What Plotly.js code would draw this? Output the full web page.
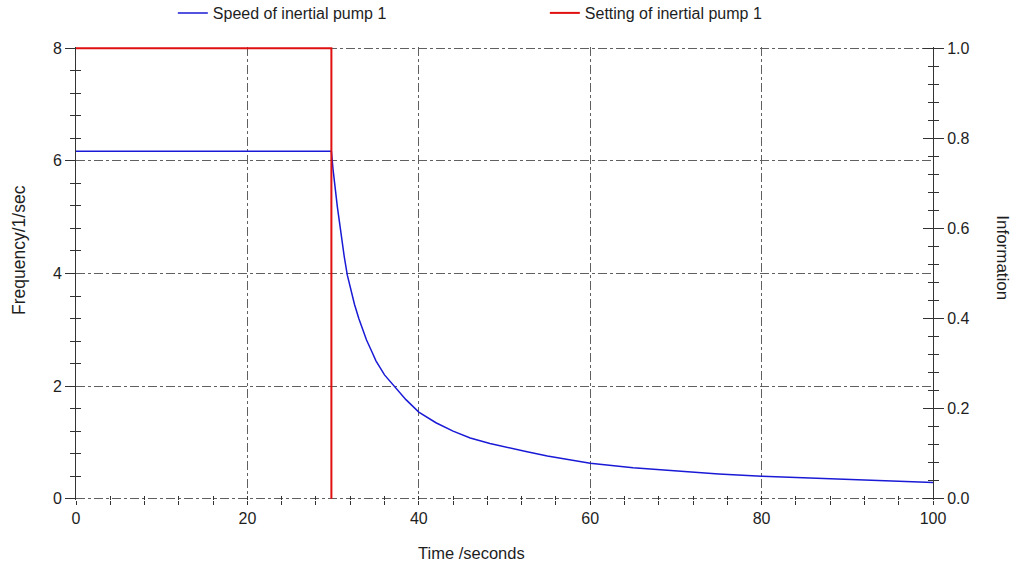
<!DOCTYPE html>
<html>
<head>
<meta charset="utf-8">
<script src="https://cdn.plot.ly/plotly-3.0.1.min.js"></script>
<style>html,body{margin:0;padding:0;background:#fff;}#chart{width:1016px;height:565px;}</style>
</head>
<body>
<div id="chart"></div>
<script>
// Speed of inertial pump 1 (Frequency, 1/sec)
const speedTime = [0, 29.8, 30.0, 30.2, 30.5, 30.8, 31.0, 31.3, 31.66, 32.0, 32.5, 33.0, 33.9, 34.5, 35, 36, 37.2, 38.5, 40, 42, 44, 46, 48.3, 50, 52.5, 55, 57.5, 60, 65, 70, 75, 80, 85, 90, 95, 100];
const speedValue = [6.17, 6.17, 5.84, 5.55, 5.18, 4.85, 4.60, 4.30, 3.97, 3.76, 3.45, 3.20, 2.82, 2.62, 2.45, 2.20, 1.98, 1.76, 1.54, 1.35, 1.20, 1.08, 0.98, 0.92, 0.84, 0.76, 0.69, 0.63, 0.55, 0.49, 0.44, 0.40, 0.37, 0.34, 0.31, 0.29];
// Setting of inertial pump 1
const settingTime = [0, 29.8, 29.8];
const settingValue = [8, 8, 0];

const seriesNames = ["Speed of inertial pump 1", "Setting of inertial pump 1"];
const xTitle = "Time /seconds";
const yTitle = "Frequency/1/sec";
const y2Title = "Information";

const font = "Liberation Sans, Arial, sans-serif";
const tickCol = "#333";
const gridCol = "#606060";
const txtCol = "#1e1e1e";

const traces = [
  {x: speedTime, y: speedValue, type: "scatter", mode: "lines", name: seriesNames[0],
   line: {color: "#1a1ad6", width: 1.5}},
  {x: settingTime, y: settingValue, type: "scatter", mode: "lines", name: seriesNames[1],
   line: {color: "#e01010", width: 2}},
  // invisible helper traces so the overlay axes (crossing ticks, right scale) are built
  {x: speedTime, y: speedValue, xaxis: "x2", yaxis: "y3", mode: "lines", showlegend: false, hoverinfo: "skip", line: {width: 0}, opacity: 0},
  {x: speedTime, y: speedValue.map(v => v / 8), xaxis: "x", yaxis: "y2", mode: "lines", showlegend: false, hoverinfo: "skip", line: {width: 0}, opacity: 0},
  {x: speedTime, y: speedValue.map(v => v / 8), xaxis: "x", yaxis: "y4", mode: "lines", showlegend: false, hoverinfo: "skip", line: {width: 0}, opacity: 0}
];

// ranges padded by ~1px so the dash-dot gridlines at 0 and 8 are kept
const yPad = 0.022;
const layout = {
  width: 1016, height: 565,
  margin: {l: 76, r: 83, t: 47, b: 65},
  paper_bgcolor: "#fff", plot_bgcolor: "#fff",
  font: {family: font, size: 16, color: txtCol},
  showlegend: true,
  legend: {orientation: "h", xref: "paper", x: 0.113, xanchor: "left", yref: "container", y: 0.977, yanchor: "middle",
           font: {family: font, size: 16, color: txtCol}, entrywidth: 327, entrywidthmode: "pixels",
           bgcolor: "rgba(0,0,0,0)"},
  xaxis: {range: [0, 100], dtick: 20, tick0: 0, showgrid: true, gridcolor: gridCol, griddash: "dashdot", gridwidth: 1,
          showline: false, zeroline: false, ticks: "outside", ticklen: 4, tickcolor: tickCol, tickwidth: 1,
          minor: {dtick: 4, tick0: 0, ticks: "outside", ticklen: 4, tickcolor: tickCol, tickwidth: 1, showgrid: false},
          tickfont: {size: 16, color: txtCol}, fixedrange: true},
  xaxis2: {range: [0, 100], overlaying: "x", anchor: "y", side: "bottom", dtick: 20, tick0: 0, showgrid: false,
           showline: false, zeroline: false, ticks: "inside", ticklen: 4, tickcolor: tickCol, showticklabels: false,
           minor: {dtick: 4, tick0: 0, ticks: "inside", ticklen: 4, tickcolor: tickCol, showgrid: false}},
  yaxis: {range: [-yPad, 8 + yPad], dtick: 2, tick0: 0, showgrid: true, gridcolor: gridCol, griddash: "dashdot", gridwidth: 1,
          showline: true, linecolor: tickCol, linewidth: 1, zeroline: false, ticks: "outside", ticklen: 10, tickcolor: tickCol,
          minor: {dtick: 0.4, tick0: 0, ticks: "outside", ticklen: 5, tickcolor: tickCol, showgrid: false},
          tickfont: {size: 16, color: txtCol}},
  yaxis3: {range: [-yPad, 8 + yPad], overlaying: "y", anchor: "x", side: "left", dtick: 2, showgrid: false, showline: false, zeroline: false,
           ticks: "", showticklabels: false,
           minor: {dtick: 0.4, tick0: 0, ticks: "inside", ticklen: 5, tickcolor: tickCol, showgrid: false}},
  yaxis2: {range: [-yPad / 8, 1 + yPad / 8], overlaying: "y", anchor: "x", side: "right", dtick: 0.2, tick0: 0, tickformat: ".1f",
           showgrid: false, showline: true, linecolor: tickCol, linewidth: 1, zeroline: false,
           ticks: "outside", ticklen: 10, tickcolor: tickCol,
           minor: {dtick: 0.04, tick0: 0, ticks: "outside", ticklen: 5, tickcolor: tickCol, showgrid: false},
           tickfont: {size: 16, color: txtCol}},
  yaxis4: {range: [-yPad / 8, 1 + yPad / 8], overlaying: "y", anchor: "x", side: "right", dtick: 0.2, tick0: 0, showgrid: false, showline: false,
           zeroline: false, ticks: "inside", ticklen: 10, tickcolor: tickCol, showticklabels: false,
           minor: {dtick: 0.04, tick0: 0, ticks: "inside", ticklen: 5, tickcolor: tickCol, showgrid: false}},
  annotations: [
    {text: xTitle, xref: "paper", yref: "paper", x: 0.461, y: -0.118, xanchor: "center", yanchor: "middle",
     showarrow: false, font: {family: font, size: 16.5, color: txtCol}},
    {text: yTitle, xref: "paper", yref: "paper", x: -0.0665, y: 0.552, xanchor: "center", yanchor: "middle",
     textangle: -90, showarrow: false, font: {family: font, size: 17.5, color: txtCol}},
    {text: y2Title, xref: "paper", yref: "paper", x: 1.081, y: 0.535, xanchor: "center", yanchor: "middle",
     textangle: 90, showarrow: false, font: {family: font, size: 17, color: txtCol}}
  ]
};

Plotly.newPlot("chart", traces, layout, {displayModeBar: false, staticPlot: true});
</script>
</body>
</html>
